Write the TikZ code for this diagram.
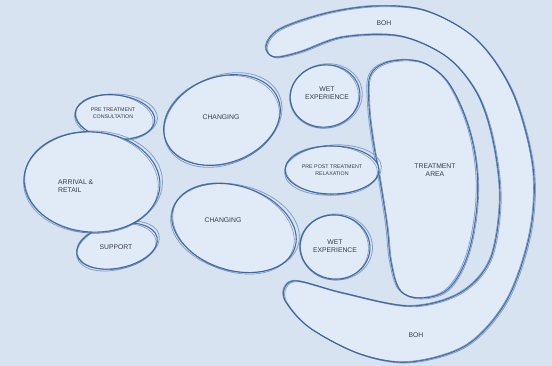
\documentclass[tikz,border=0pt]{standalone}
\usepackage{fontspec}
\setmainfont{Liberation Sans}
\definecolor{bgc}{RGB}{215,227,241}
\definecolor{fillc}{RGB}{225,234,247}
\definecolor{linec}{RGB}{58,96,155}
\definecolor{linel}{RGB}{115,150,198}
\definecolor{txtc}{RGB}{55,60,72}
\tikzset{
  bubfill/.style={fill=fillc},
  sk1/.style={draw=linec, line width=1.1pt, opacity=0.9},
  sk2/.style={draw=linel, line width=0.8pt, opacity=0.85},
  sk3/.style={draw=linec, line width=0.6pt, opacity=0.6},
  lab/.style={font=\fontsize{6.8}{8.5}\selectfont, text=txtc, align=center, inner sep=0pt},
  smalllab/.style={font=\fontsize{5.3}{6.6}\selectfont, text=txtc, align=center, inner sep=0pt}
}
\newcommand\bub[5]{%
  \fill[bubfill, rotate around={#5:(#1,#2)}] (#1,#2) ellipse ({#3} and {#4});
  \draw[sk2, rotate around={#5+4:(#1+1,#2)}] (#1+1,#2) ellipse ({#3+1.5} and {#4+1});
  \draw[sk3, rotate around={#5-3:(#1-0.5,#2+0.5)}] (#1-0.5,#2+0.5) ellipse ({#3-1} and {#4+0.5});
  \draw[sk1, rotate around={#5:(#1,#2)}] (#1,#2) ellipse ({#3} and {#4});
}
\begin{document}
\begin{tikzpicture}[x=1pt,y=-1pt]
\useasboundingbox (0,0) rectangle (552,366);
\fill[bgc] (0,0) rectangle (552,366);

% BOH C-shaped band
\def\boh{(266,46) (280,29) (327,13) (377,6) (427,11) (477,40) (513,93) (533,167) (530,233) (507,300) (467,345) (410,362) (360,354) (310,328) (286,302) (285,287) (298,281) (343,293) (410,306) (460,293) (490,260) (500,200) (493,140) (477,93) (447,57) (400,36) (343,37) (300,52) (274,57)}
\fill[bubfill] plot[smooth cycle, tension=0.55] coordinates {\boh};
\draw[sk2, xshift=1.2pt, yshift=-0.8pt] plot[smooth cycle, tension=0.55] coordinates {\boh};
\draw[sk3, xshift=-0.8pt, yshift=0.6pt] plot[smooth cycle, tension=0.55] coordinates {\boh};
\draw[sk1] plot[smooth cycle, tension=0.55] coordinates {\boh};

% Treatment area bean
\def\bean{(410,60) (385,63) (370,76) (369,105) (373,140) (380,180) (387,225) (391,262) (400,290) (420,298) (447,290) (466,260) (476,215) (477,170) (468,125) (450,85) (430,66)}
\fill[bubfill] plot[smooth cycle, tension=0.6] coordinates {\bean};
\draw[sk2, xshift=-1.5pt, yshift=0.5pt] plot[smooth cycle, tension=0.6] coordinates {\bean};
\draw[sk3, xshift=1pt, yshift=-1pt] plot[smooth cycle, tension=0.6] coordinates {\bean};
\draw[sk1] plot[smooth cycle, tension=0.6] coordinates {\bean};

% ellipses
\bub{115}{117}{40}{22}{-6}
\bub{117}{246}{41}{22}{12}
\bub{92}{182}{68}{50}{-4}
\bub{222}{120}{60}{43}{20}
\bub{234}{228}{64}{42}{-18}
\bub{325}{96}{35}{31}{10}
\bub{332}{170}{47}{24}{0}
\bub{335}{247}{35}{32}{-8}

% labels
\node[smalllab] (ptc) at (113,113) {PRE TREATMENT\\CONSULTATION};
\node[lab, anchor=west, align=left] (arr) at (58,186) {ARRIVAL \&\\RETAIL};
\node[lab] (sup) at (116,247) {SUPPORT};
\node[lab] (ch1) at (221,117) {CHANGING};
\node[lab] (ch2) at (223,220) {CHANGING};
\node[lab] (wet1) at (327,93) {WET\\EXPERIENCE};
\node[smalllab] (rel) at (332,170) {PRE POST TREATMENT\\RELAXATION};
\node[lab] (wet2) at (335,246) {WET\\EXPERIENCE};
\node[lab] (trt) at (435,170) {TREATMENT\\AREA};
\node[lab] (boh1) at (384,23) {BOH};
\node[lab] (boh2) at (416,335) {BOH};
\end{tikzpicture}
\end{document}
